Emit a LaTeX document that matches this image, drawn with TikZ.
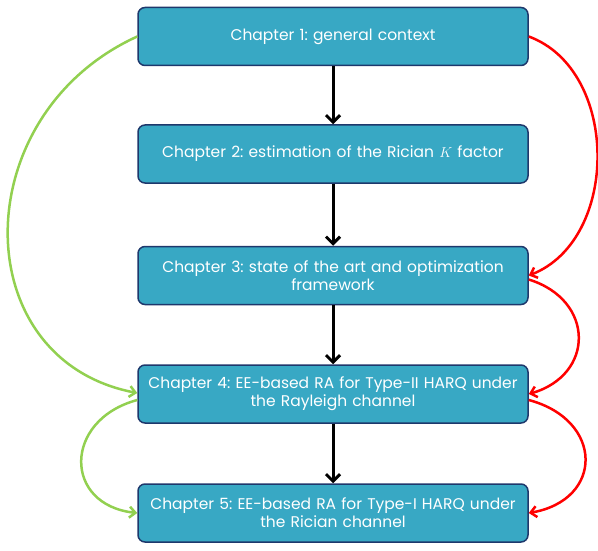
\documentclass[tikz,border=0pt]{standalone}
\usepackage{fontspec}
\setmainfont{Poppins}
\usetikzlibrary{arrows.meta}
\definecolor{chapfill}{RGB}{56,168,196}
\definecolor{chapline}{RGB}{30,56,108}
\definecolor{lgreen}{RGB}{146,208,80}
\frenchspacing
\begin{document}
\begin{tikzpicture}[x=1pt,y=-1pt,
    chap/.style={draw=chapline,line width=1.5pt,fill=chapfill,rounded corners=7pt,
        minimum width=390pt,minimum height=58pt,text width=386pt,align=center,
        inner sep=0pt,text=white,font=\fontsize{15.5}{18}\selectfont},
    flow/.style={line width=3pt,-{Straight Barb[length=7pt,width=14pt]}},
    back/.style={line width=2.5pt,-{Straight Barb[length=6pt,width=11pt]}}]
    \useasboundingbox (0,0) rectangle (598,551);
    \path (333,36.5) node[chap] (c1) {Chapter 1: general context}
        (333,154) node[chap] (c2) {Chapter 2: estimation of the Rician $K$ factor}
        (333,275.5) node[chap] (c3) {Chapter 3: state of the art and optimization\\framework}
        (333,394) node[chap] (c4) {Chapter 4: EE-based RA for Type-II HARQ under\\the Rayleigh channel}
        (333,513) node[chap] (c5) {Chapter 5: EE-based RA for Type-I HARQ under\\the Rician channel};
    \foreach \a/\b in {c1/c2,c2/c3,c3/c4,c4/c5}{
        \draw[flow] (\a) -- (\b);
    }
    % links that skip chapters
    \draw[back,lgreen] (c1.west) .. controls (-35,115) and (-35,360) .. ([yshift=1pt]c4.west);
    \draw[back,lgreen] ([yshift=-6pt]c4.west) .. controls (63,420) and (63,505) .. (c5.west);
    \draw[back,red] (c1.east) .. controls (620,70) and (620,240) .. (c3.east);
    \draw[back,red] ([yshift=-4pt]c3.east) .. controls (595,300) and (595,375) .. (c4.east);
    \draw[back,red] ([yshift=-6pt]c4.east) .. controls (604,420) and (604,500) .. (c5.east);
\end{tikzpicture}
\end{document}
